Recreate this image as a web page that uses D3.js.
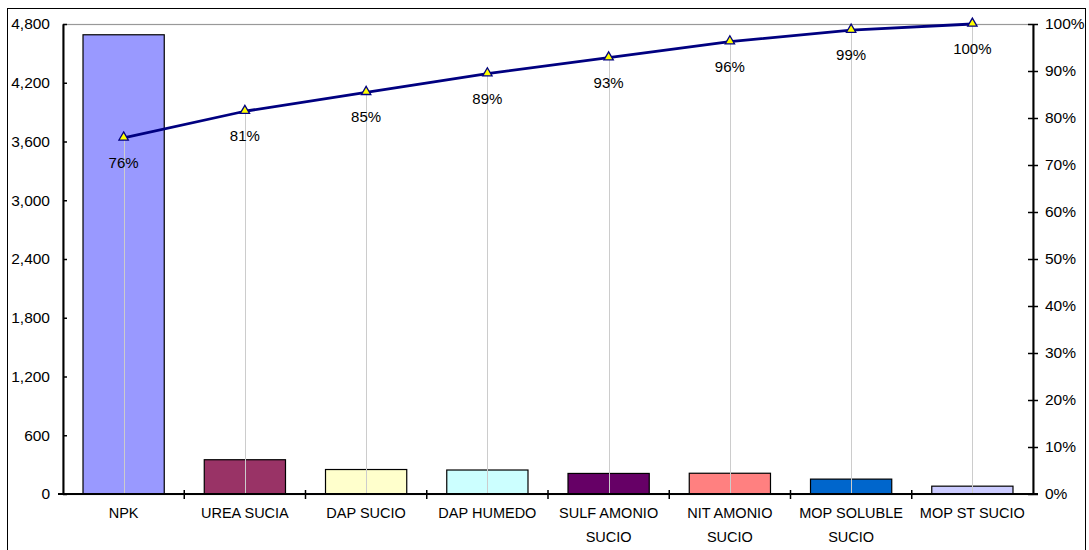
<!DOCTYPE html>
<html>
<head>
<meta charset="utf-8">
<script src="https://cdn.jsdelivr.net/npm/d3@7"></script>
<style>
  html, body { margin: 0; padding: 0; background: #fff; }
  svg { display: block; font-family: "Liberation Sans", Arial, sans-serif; }
</style>
</head>
<body>
<svg id="chart" width="1089" height="550"></svg>
<script>
// Pareto of product quantities: bars on the left axis, cumulative share on the right.
const categories = ["NPK", "UREA SUCIA", "DAP SUCIO", "DAP HUMEDO", "SULF AMONIO SUCIO",
                    "NIT AMONIO SUCIO", "MOP SOLUBLE SUCIO", "MOP ST SUCIO"];
const quantities = [4690, 350, 250, 245, 210, 212, 152, 80];
const barColors = ["#9999FF", "#993366", "#FFFFCC", "#CCFFFF", "#660066",
                   "#FF8080", "#0066CC", "#CCCCFF"];
const leftTicks = [0, 600, 1200, 1800, 2400, 3000, 3600, 4200, 4800];
const rightTicks = [0, 0.1, 0.2, 0.3, 0.4, 0.5, 0.6, 0.7, 0.8, 0.9, 1];

const total = d3.sum(quantities);
const cumulative = Array.from(d3.cumsum(quantities), v => v / total);

const svg = d3.select("#chart");
const plot = { left: 63, right: 1033, top: 24, bottom: 494 };

// Chart frame
svg.append("rect")
  .attr("x", 7.5).attr("y", 8.5)
  .attr("width", 1078).attr("height", 560)
  .attr("fill", "#fff").attr("stroke", "#000").attr("stroke-width", 1);

const x = d3.scaleBand()
  .domain(categories)
  .range([plot.left, plot.right])
  .paddingInner(0.33)
  .paddingOuter(0.165);

const yLeft = d3.scaleLinear().domain([0, 4800]).range([plot.bottom, plot.top]);
const yRight = d3.scaleLinear().domain([0, 1]).range([plot.bottom, plot.top]);

// Plot area border (only the top edge stays visible above the axes)
svg.append("rect")
  .attr("x", plot.left).attr("y", plot.top + 0.5)
  .attr("width", plot.right - plot.left).attr("height", plot.bottom - plot.top)
  .attr("fill", "none").attr("stroke", "#999").attr("stroke-width", 1.2);

// Bars
svg.append("g").selectAll("rect")
  .data(categories)
  .join("rect")
  .attr("x", d => x(d))
  .attr("y", (d, i) => yLeft(quantities[i]))
  .attr("width", x.bandwidth())
  .attr("height", (d, i) => yLeft(0) - yLeft(quantities[i]))
  .attr("fill", (d, i) => barColors[i])
  .attr("stroke", "#000")
  .attr("stroke-width", 1.2);

const cx = d => x(d) + x.bandwidth() / 2;

// Drop lines from each cumulative point to the category axis
svg.append("g").selectAll("line")
  .data(categories)
  .join("line")
  .attr("x1", d => Math.round(cx(d)) + 0.5)
  .attr("x2", d => Math.round(cx(d)) + 0.5)
  .attr("y1", (d, i) => yRight(cumulative[i]))
  .attr("y2", yRight(0))
  .attr("stroke", "#cccccc")
  .attr("stroke-width", 1);

// Left axis
const leftAxis = svg.append("g")
  .attr("transform", `translate(${plot.left},0)`)
  .call(d3.axisLeft(yLeft).tickValues(leftTicks).tickFormat(d3.format(",")).tickSize(5).tickSizeOuter(0));
leftAxis.select(".domain").attr("stroke", "#000").attr("stroke-width", 2);
leftAxis.selectAll(".tick line").attr("x2", 4).attr("stroke-width", 1.5);
leftAxis.selectAll(".tick text")
  .attr("x", -13).attr("font-size", 15.5).attr("fill", "#000")
  .attr("font-family", "Liberation Sans, Arial, sans-serif");

// Right axis
const rightAxis = svg.append("g")
  .attr("transform", `translate(${plot.right},0)`)
  .call(d3.axisRight(yRight).tickValues(rightTicks).tickFormat(d3.format(".0%")).tickSize(5).tickSizeOuter(0));
rightAxis.select(".domain").attr("stroke", "#000").attr("stroke-width", 2);
rightAxis.selectAll(".tick line").attr("x1", -5).attr("stroke-width", 1.5);
rightAxis.selectAll(".tick text")
  .attr("x", 12).attr("font-size", 15.5).attr("fill", "#000")
  .attr("font-family", "Liberation Sans, Arial, sans-serif");

// Category axis with ticks between categories
const step = x.step();
const boundaries = d3.range(1, categories.length).map(i => plot.left + i * step);
const xAxis = svg.append("g");
xAxis.append("line")
  .attr("x1", plot.left - 5).attr("x2", plot.right + 5)
  .attr("y1", plot.bottom).attr("y2", plot.bottom)
  .attr("stroke", "#000").attr("stroke-width", 2);
xAxis.selectAll("line.sep")
  .data(boundaries)
  .join("line")
  .attr("class", "sep")
  .attr("x1", d => d).attr("x2", d => d)
  .attr("y1", plot.bottom - 4).attr("y2", plot.bottom + 5)
  .attr("stroke", "#000").attr("stroke-width", 1.5);

// Category labels, wrapped to fit the category width
const labels = xAxis.selectAll("text.cat")
  .data(categories)
  .join("text")
  .attr("class", "cat")
  .attr("x", d => cx(d))
  .attr("y", plot.bottom + 24)
  .attr("text-anchor", "middle")
  .attr("font-size", 14.5)
  .attr("fill", "#000");

labels.each(function (d) {
  const el = d3.select(this);
  const words = d.split(" ");
  const maxW = step - 8;
  let line = [];
  let tspan = el.append("tspan").attr("x", cx(d)).attr("dy", 0);
  for (const w of words) {
    line.push(w);
    tspan.text(line.join(" "));
    if (tspan.node().getComputedTextLength() > maxW && line.length > 1) {
      line.pop();
      tspan.text(line.join(" "));
      line = [w];
      tspan = el.append("tspan").attr("x", cx(d)).attr("dy", 23.5).text(w);
    }
  }
});

// Cumulative line
const line = d3.line()
  .x(d => cx(d))
  .y((d, i) => yRight(cumulative[i]));
svg.append("path")
  .datum(categories)
  .attr("d", line)
  .attr("fill", "none")
  .attr("stroke", "#000080")
  .attr("stroke-width", 2.8)
  .attr("stroke-linejoin", "round");

// Triangle markers
const tri = d3.symbol().type(d3.symbolTriangle).size(38);
svg.append("g").selectAll("path")
  .data(categories)
  .join("path")
  .attr("d", tri)
  .attr("transform", (d, i) => `translate(${cx(d)},${yRight(cumulative[i]) - 0.5})`)
  .attr("fill", "#FFFF00")
  .attr("stroke", "#000080")
  .attr("stroke-width", 1.3);

// Cumulative percentage labels
svg.append("g").selectAll("text")
  .data(categories)
  .join("text")
  .attr("x", d => cx(d))
  .attr("y", (d, i) => yRight(cumulative[i]) + 30)
  .attr("text-anchor", "middle")
  .attr("font-size", 15)
  .attr("fill", "#000")
  .text((d, i) => d3.format(".0%")(cumulative[i]));
</script>
</body>
</html>
